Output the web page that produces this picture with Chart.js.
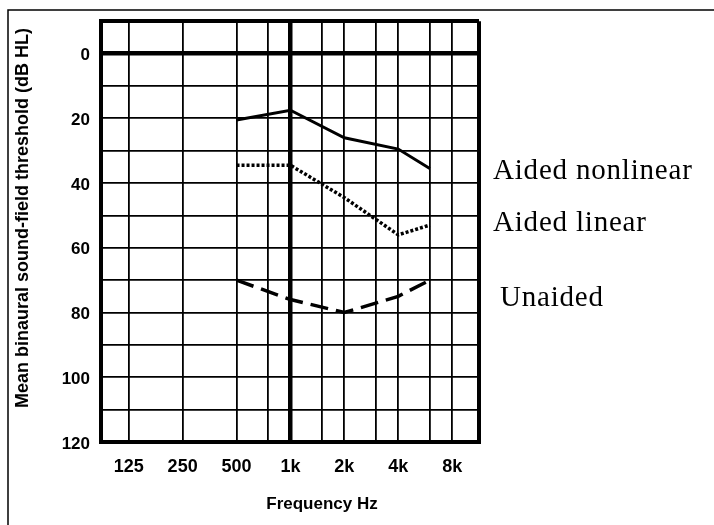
<!DOCTYPE html>
<html>
<head>
<meta charset="utf-8">
<script src="https://cdn.jsdelivr.net/npm/chart.js@4/dist/chart.umd.min.js"></script>
<style>
  html, body { margin: 0; padding: 0; background: #fff; }
  #wrap { width: 714px; height: 525px; position: relative; }
</style>
</head>
<body>
<div id="wrap"><canvas id="c" width="714" height="525"></canvas></div>
<script>
// ---- data ----
const frequencies = [500, 1000, 2000, 4000, 6000];
const aidedNonlinear = [20.5, 17.5, 26, 29.5, 35.5];
const aidedLinear = [34.5, 34.5, 44.5, 56, 53];
const unaided = [70, 76, 80, 75, 70];
const seriesLabels = ['Aided nonlinear', 'Aided linear', 'Unaided'];

const xTickFreqs = [125, 250, 500, 1000, 2000, 4000, 8000];
const xTickLabels = ['125', '250', '500', '1k', '2k', '4k', '8k'];
const xHalfOctaveFreqs = [750, 1500, 3000, 6000];
const yTickValues = [0, 20, 40, 60, 80, 100, 120];
const yTickLabels = ['0', '20', '40', '60', '80', '100', '120'];
const xTitle = 'Frequency Hz';
const yTitle = 'Mean binaural sound-field threshold (dB HL)';

const X_MIN = 87.5, X_MAX = 11300;
const Y_MIN = -10, Y_MAX = 120;

const SANS = '"Liberation Sans", Arial, Helvetica, sans-serif';
const SERIF = '"Liberation Serif", "Times New Roman", serif';

function toPoints(ys) { return frequencies.map((f, i) => ({ x: f, y: ys[i] })); }

const decorPlugin = {
  id: 'decor',
  beforeDraw(chart) {
    const ctx = chart.ctx;
    ctx.save();
    ctx.fillStyle = '#fff';
    ctx.fillRect(0, 0, chart.width, chart.height);
    // outer frame (top and left)
    ctx.strokeStyle = '#000';
    ctx.lineWidth = 1.5;
    ctx.beginPath();
    ctx.moveTo(8, 525);
    ctx.lineTo(8, 10);
    ctx.lineTo(714, 10);
    ctx.stroke();
    ctx.restore();
  },
  afterDraw(chart) {
    const ctx = chart.ctx;
    ctx.save();
    ctx.fillStyle = '#000';
    // axis titles
    ctx.font = 'bold 17px ' + SANS;
    ctx.textAlign = 'center';
    ctx.textBaseline = 'middle';
    ctx.fillText(xTitle, 322, 504);
    ctx.save();
    ctx.translate(23, 218);
    ctx.rotate(-Math.PI / 2);
    ctx.font = 'bold 18px ' + SANS;
    ctx.fillText(yTitle, 0, 0);
    ctx.restore();
    // series labels
    ctx.font = '29px ' + SERIF;
    ctx.textAlign = 'left';
    ctx.textBaseline = 'alphabetic';
    try { ctx.letterSpacing = '0.8px'; } catch (e) {}
    ctx.fillText(seriesLabels[0], 493, 179);
    ctx.fillText(seriesLabels[1], 493, 231);
    ctx.fillText(seriesLabels[2], 500, 306);
    ctx.restore();
  }
};

new Chart(document.getElementById('c'), {
  type: 'line',
  data: {
    datasets: [
      { label: seriesLabels[0], data: toPoints(aidedNonlinear), borderColor: '#000', borderWidth: 3, pointRadius: 0, fill: false, tension: 0 },
      { label: seriesLabels[1], data: toPoints(aidedLinear), borderColor: '#000', borderWidth: 3.5, borderDash: [3, 2], pointRadius: 0, fill: false, tension: 0 },
      { label: seriesLabels[2], data: toPoints(unaided), borderColor: '#000', borderWidth: 3.5, borderDash: [18, 8], pointRadius: 0, fill: false, tension: 0 }
    ]
  },
  options: {
    responsive: false,
    animation: false,
    devicePixelRatio: 1,
    layout: { padding: { top: 21, right: 235, left: 0, bottom: 0 } },
    plugins: { legend: { display: false }, tooltip: { enabled: false } },
    scales: {
      x: {
        type: 'logarithmic',
        min: X_MIN,
        max: X_MAX,
        afterBuildTicks(scale) {
          const vals = [X_MIN, ...xTickFreqs, ...xHalfOctaveFreqs, X_MAX].sort((a, b) => a - b);
          scale.ticks = vals.map(v => ({ value: v }));
        },
        afterFit(scale) { scale.height = 83; },
        ticks: {
          autoSkip: false,
          maxRotation: 0,
          padding: 14,
          color: '#000',
          font: { family: SANS, size: 18, weight: 'bold' },
          callback(value) {
            const i = xTickFreqs.indexOf(value);
            return i >= 0 ? xTickLabels[i] : '';
          }
        },
        grid: {
          drawTicks: false,
          color: '#000',
          lineWidth(ctx) {
            const v = ctx.tick && ctx.tick.value;
            if (v === 1000) return 4.5;
            if (v === X_MIN || v === X_MAX) return 4;
            return 1.8;
          }
        },
        border: { display: true, color: '#000', width: 4 },
        title: { display: false }
      },
      y: {
        type: 'linear',
        reverse: true,
        min: Y_MIN,
        max: Y_MAX,
        afterFit(scale) { scale.width = 101; },
        ticks: {
          stepSize: 10,
          padding: 11,
          labelOffset: 2,
          color: '#000',
          font: { family: SANS, size: 17, weight: 'bold' },
          callback(value) {
            const i = yTickValues.indexOf(value);
            return i >= 0 ? yTickLabels[i] : '';
          }
        },
        grid: {
          drawTicks: false,
          color: '#000',
          lineWidth(ctx) {
            const v = ctx.tick && ctx.tick.value;
            if (v === 0) return 4.5;
            if (v === Y_MIN || v === Y_MAX) return 4;
            return 1.8;
          }
        },
        border: { display: true, color: '#000', width: 4 },
        title: { display: false }
      }
    }
  },
  plugins: [decorPlugin]
});
</script>
</body>
</html>
